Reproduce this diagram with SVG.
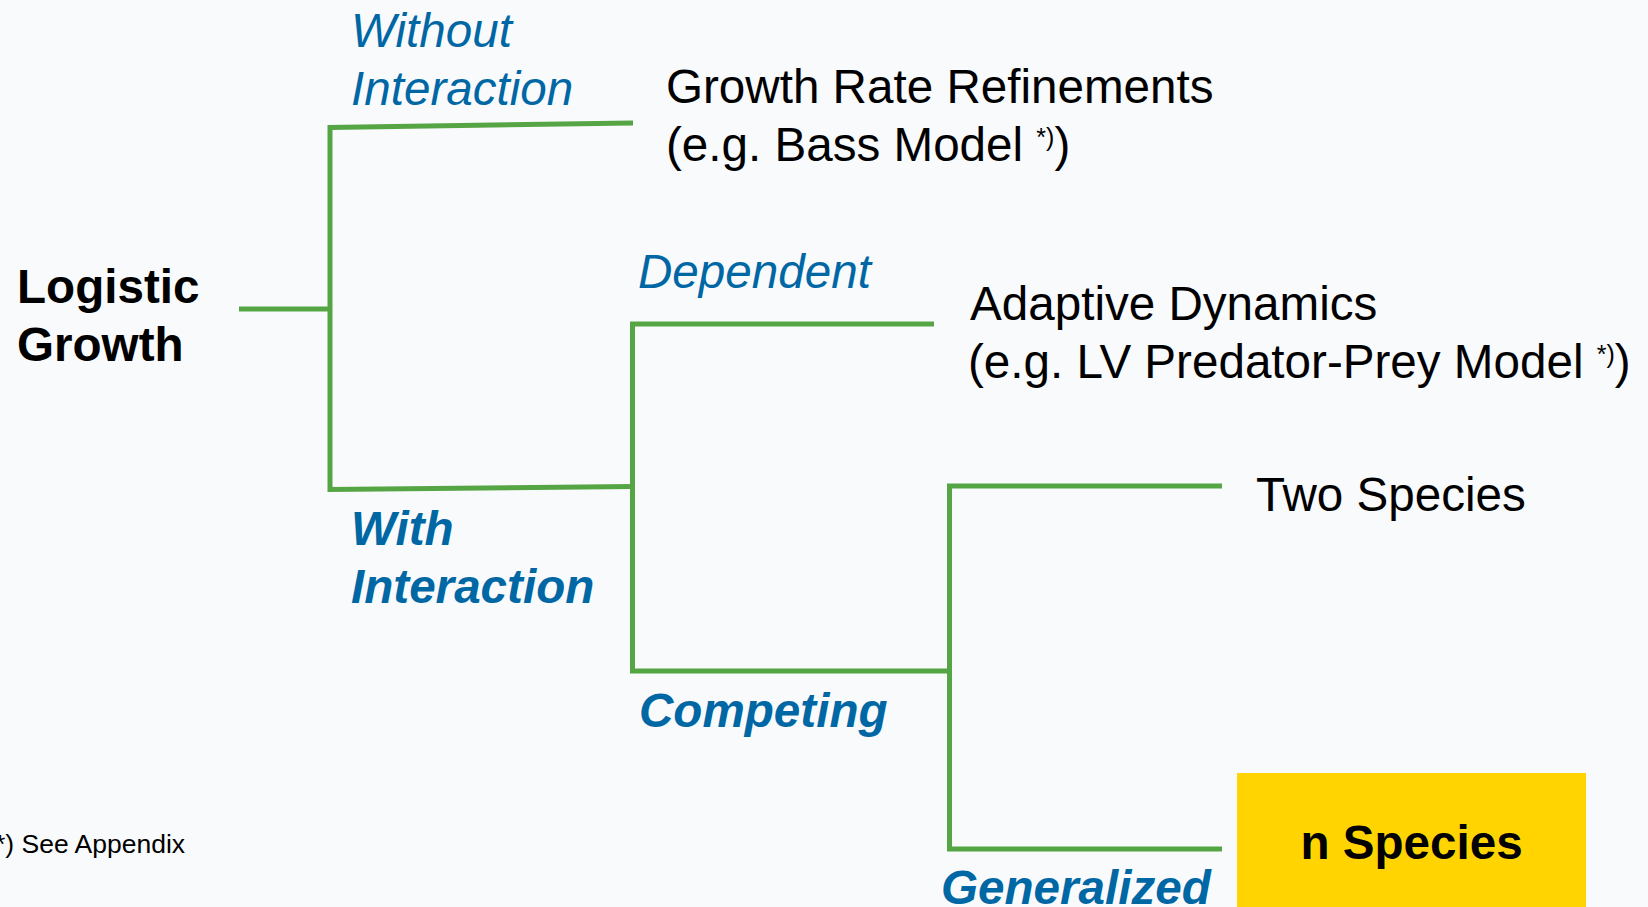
<svg xmlns="http://www.w3.org/2000/svg" width="1648" height="907" viewBox="0 0 1648 907">
<style>
.ln{fill:none;stroke:#56A545;stroke-width:5;stroke-linejoin:miter;stroke-linecap:butt}
.t{font-family:"Liberation Sans",Arial,sans-serif;font-size:47.6px;fill:#000}
.b{font-weight:bold}
.lab{font-family:"Liberation Sans",Arial,sans-serif;font-size:47.6px;fill:#0067A5;font-style:italic}
.sup{font-size:25px}
</style>
<rect x="0" y="0" width="1648" height="907" fill="#F8FAFC"/>
<g id="connectors">
<path class="ln" d="M239,309 H330"/>
<path class="ln" d="M633,123 L330,127.5 L330,489.5 L633,486.5"/>
<path class="ln" d="M934,324 H632.5 V671 H950"/>
<path class="ln" d="M1222,486 H949.5 V849 H1222"/>
</g>
<g id="root">
<text class="t b" x="17" y="303">Logistic</text>
<text class="t b" x="17" y="361">Growth</text>
</g>
<g id="label-without">
<text class="lab" x="351" y="47">Without</text>
<text class="lab" x="351" y="105">Interaction</text>
</g>
<g id="node-growth-rate">
<text class="t" x="666" y="103">Growth Rate Refinements</text>
<text class="t" x="666" y="161">(e.g. Bass Model <tspan class="sup" dy="-15">*)</tspan><tspan dy="15">)</tspan></text>
</g>
<g id="label-dependent">
<text class="lab" x="638" y="288">Dependent</text>
</g>
<g id="node-adaptive">
<text class="t" x="970" y="320">Adaptive Dynamics</text>
<text class="t" x="968" y="378">(e.g. LV Predator-Prey Model <tspan class="sup" dy="-15">*)</tspan><tspan dy="15">)</tspan></text>
</g>
<g id="label-with">
<text class="lab b" x="351" y="545">With</text>
<text class="lab b" x="351" y="603">Interaction</text>
</g>
<g id="label-competing">
<text class="lab b" x="639" y="727">Competing</text>
</g>
<g id="node-two-species">
<text class="t" x="1256" y="511">Two Species</text>
</g>
<g id="label-generalized">
<text class="lab b" x="941" y="904">Generalized</text>
</g>
<g id="node-n-species">
<rect x="1237" y="773" width="349" height="140" fill="#FFD400"/>
<text class="t b" x="1411.5" y="859" text-anchor="middle">n Species</text>
</g>
<g id="footnote">
<text class="t" style="font-size:26.5px" x="-5" y="853">*) See Appendix</text>
</g>
</svg>
